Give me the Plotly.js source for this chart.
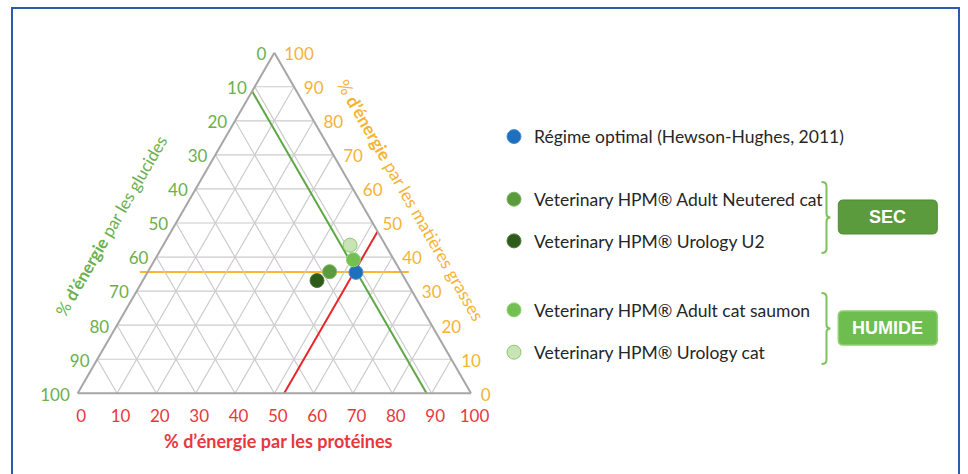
<!DOCTYPE html>
<html><head><meta charset="utf-8">
<script src="https://cdn.plot.ly/plotly-3.0.1.min.js"></script>
<style>html,body{margin:0;padding:0;background:#fff}#chart{width:968px;height:474px}</style>
</head><body><div id="chart"></div>
<script>
// Ternary: fat = top corner, glucides = bottom-left corner, proteins = bottom-right corner
const seriesNames = ['Régime optimal (Hewson-Hughes, 2011)','Veterinary HPM® Adult Neutered cat','Veterinary HPM® Urology U2','Veterinary HPM® Adult cat saumon','Veterinary HPM® Urology cat'];
const fatPct  = [35.5, 35.7, 33.1, 39.2, 43.5];
const gluPct  = [11.5, 18.1, 22.6, 10.3, 9.0];
const protPct = [53.0, 46.2, 44.3, 50.5, 47.5];
const seriesColors = ['#1f6fbf','#5b9a3d','#2e5a1c','#72c052','#c8e4b5'];
const seriesEdge   = ['#4a8fd0','#7ab45f','#4f7a3c','#8fd070','#8cc870'];
// reference lines (optimal diet)
const refGlu = 11.3, refProt = 52.5, refFat = 35.6;
const tickVals = [0,10,20,30,40,50,60,70,80,90,100];
const tickLabels = ['100','90','80','70','60','50','40','30','20','10','0'];
const groupLabels = ['SEC','HUMIDE'];

const W = 968, H = 474;
const X = x => x / W, Y = y => 1 - y / H;
function pth(cmds){ return cmds.map(c => c[0] + ' ' + c.slice(1).map((v,i)=> (i%2===0? X(v):Y(v)).toFixed(5)).join(' ')).join(' '); }
function rrect(x0,y0,x1,y1,r){
  return pth([['M',x0+r,y0],['L',x1-r,y0],['Q',x1,y0,x1,y0+r],['L',x1,y1-r],['Q',x1,y1,x1-r,y1],['L',x0+r,y1],['Q',x0,y1,x0,y1-r],['L',x0,y0+r],['Q',x0,y0,x0+r,y0]]) + ' Z';
}
function bracket(x,yt,yb){
  const ym=(yt+yb)/2;
  return pth([['M',x-5,yt],['Q',x,yt,x,yt+4],['L',x,ym-4],['Q',x,ym,x+4,ym],['Q',x,ym,x,ym+4],['L',x,yb-4],['Q',x,yb,x-5,yb]]);
}
// ternary (a,b,c) -> planar coordinates used by the overlay axes (x = c - b, y = a)
const tx = (a,b,c) => c - b, ty = (a,b,c) => a;
const padL = 4, padR = 5, padV = 0.9, lineExt = 4;
const tickFontFam = 'Lato, "Open Sans", sans-serif';

const traces = [
  // overlay (cartesian) layer: edge tick labels and the fat reference line
  {type:'scatter', mode:'lines', xaxis:'x', yaxis:'y',
    x:[tx(refFat,100-refFat,0)-lineExt, tx(refFat,0,100-refFat)+lineExt], y:[refFat,refFat],
    line:{color:'#ffb52e',width:2}, showlegend:false, hoverinfo:'skip'},
  {type:'scatter', mode:'text', xaxis:'x', yaxis:'y',
    x:tickVals.map(v=>tx(v,100-v,0)-padL), y:tickVals.map(v=>ty(v,100-v,0)-padV),
    text:tickLabels, textposition:'middle left', textfont:{family:tickFontFam,size:17,color:'#6ab04c'}, cliponaxis:false, showlegend:false, hoverinfo:'skip'},
  {type:'scatter', mode:'text', xaxis:'x', yaxis:'y',
    x:tickVals.map(v=>tx(v,0,100-v)+padR), y:tickVals.map(v=>ty(v,0,100-v)-padV),
    text:tickVals.map(String), textposition:'middle right', textfont:{family:tickFontFam,size:17,color:'#f5b335'}, cliponaxis:false, showlegend:false, hoverinfo:'skip'},
  // ternary layer
  {type:'scatterternary', mode:'lines', a:[100-refGlu,0], b:[refGlu,refGlu], c:[0,100-refGlu], line:{color:'#5ea843',width:2}, showlegend:false, hoverinfo:'skip'},
  {type:'scatterternary', mode:'lines', a:[0,100-refProt], b:[100-refProt,0], c:[refProt,refProt], line:{color:'#e8262a',width:2}, showlegend:false, hoverinfo:'skip'}
];
const legendIds = ['legend','legend2','legend3','legend4','legend5'];
for (let i=0;i<seriesNames.length;i++){
  traces.push({type:'scatterternary', mode:'markers', name:seriesNames[i],
    a:[fatPct[i]], b:[gluPct[i]], c:[protPct[i]],
    marker:{size:14, color:seriesColors[i], line:{color:seriesEdge[i], width:1}},
    legend:legendIds[i], cliponaxis:false});
}
const legRowsY = [136.7, 199.3, 241, 310, 352.3];
const legFont = {family:'Lato, "Open Sans", sans-serif', size:17.5, color:'#262626'};
const axisCommon = {tickmode:'array', tickvals:tickVals, ticktext:tickLabels, ticks:'outside', ticklen:7, tickcolor:'rgba(0,0,0,0)', linecolor:'#a6a6a6', linewidth:2, gridcolor:'#cccccc', gridwidth:1.2, title:{text:''}};
// triangle box (px) and matching overlay-axis ranges spanning the whole paper
const triBox = {x0:77.7, x1:471, y0:52, y1:394};
const triH = (triBox.x1-triBox.x0)*Math.sqrt(3)/2, triTop = (triBox.y0+triBox.y1-triH)/2, triBot = triTop + triH;
const ux = (triBox.x1-triBox.x0)/200, uy = triH/100;
const xRange = [-100 - triBox.x0/ux, 100 + (W-triBox.x1)/ux];
const yRange = [-(H-triBot)/uy, 100 + triTop/uy];
const layout = {
  width:W, height:H, margin:{l:0,r:0,t:0,b:0}, paper_bgcolor:'#fff', plot_bgcolor:'rgba(0,0,0,0)',
  font:{family:'Lato, "Open Sans", sans-serif'},
  xaxis:{domain:[0,1], range:xRange, visible:false, fixedrange:true},
  yaxis:{domain:[0,1], range:yRange, visible:false, fixedrange:true},
  ternary:{
    sum:100, bgcolor:'rgba(0,0,0,0)',
    domain:{x:[X(triBox.x0),X(triBox.x1)], y:[Y(triBox.y1),Y(triBox.y0)]},
    aaxis:Object.assign({}, axisCommon, {showticklabels:false}),
    baxis:Object.assign({}, axisCommon, {tickfont:{size:17,color:'#e8383d'}}),
    caxis:Object.assign({}, axisCommon, {showticklabels:false})
  },
  annotations:[
    {xref:'paper',yref:'paper',x:X(111.5),y:Y(226),xanchor:'center',yanchor:'middle',text:'% <b>d’énergie</b> par les glucides',textangle:-60,showarrow:false,font:{size:17,color:'#6ab04c'}},
    {xref:'paper',yref:'paper',x:X(410),y:Y(200),xanchor:'center',yanchor:'middle',text:'% <b>d’énergie</b> par les matières grasses',textangle:60,showarrow:false,font:{size:17.5,color:'#f5b335'}},
    {xref:'paper',yref:'paper',x:X(278.5),y:Y(441),xanchor:'center',yanchor:'middle',text:'<b>% d’énergie par les protéines</b>',showarrow:false,font:{size:18,color:'#e8383d'}},
    {xref:'paper',yref:'paper',x:X(887.8),y:Y(217),xanchor:'center',yanchor:'middle',text:'<b>'+groupLabels[0]+'</b>',showarrow:false,font:{family:'"Liberation Sans", Arial, sans-serif',size:18,color:'#fff'}},
    {xref:'paper',yref:'paper',x:X(887.8),y:Y(328),xanchor:'center',yanchor:'middle',text:'<b>'+groupLabels[1]+'</b>',showarrow:false,font:{family:'"Liberation Sans", Arial, sans-serif',size:18,color:'#fff'}}
  ],
  shapes:[
    {type:'rect',xref:'paper',yref:'paper',x0:X(12),x1:X(959),y0:Y(8),y1:-0.05,line:{color:'#2a5caa',width:2},fillcolor:'rgba(0,0,0,0)'},
    {type:'path',xref:'paper',yref:'paper',path:rrect(838.3,200,937.3,234,5),fillcolor:'#5b9a3d',line:{color:'#4f8a34',width:1}},
    {type:'path',xref:'paper',yref:'paper',path:rrect(838.3,311,937.3,345,5),fillcolor:'#6dbd4f',line:{color:'#8fd070',width:1.5}},
    {type:'path',xref:'paper',yref:'paper',path:bracket(826.5,182,253),line:{color:'#7cc25a',width:2}},
    {type:'path',xref:'paper',yref:'paper',path:bracket(826.5,293,364),line:{color:'#7cc25a',width:2}}
  ]
};
legendIds.forEach((id,i)=>{
  layout[id] = {x:X(494), y:Y(legRowsY[i]), xanchor:'left', yanchor:'middle', bgcolor:'rgba(0,0,0,0)', borderwidth:0, font:legFont, itemsizing:'trace', itemclick:false, itemdoubleclick:false};
});
Plotly.newPlot('chart', traces, layout, {displayModeBar:false, staticPlot:true});
</script></body></html>
